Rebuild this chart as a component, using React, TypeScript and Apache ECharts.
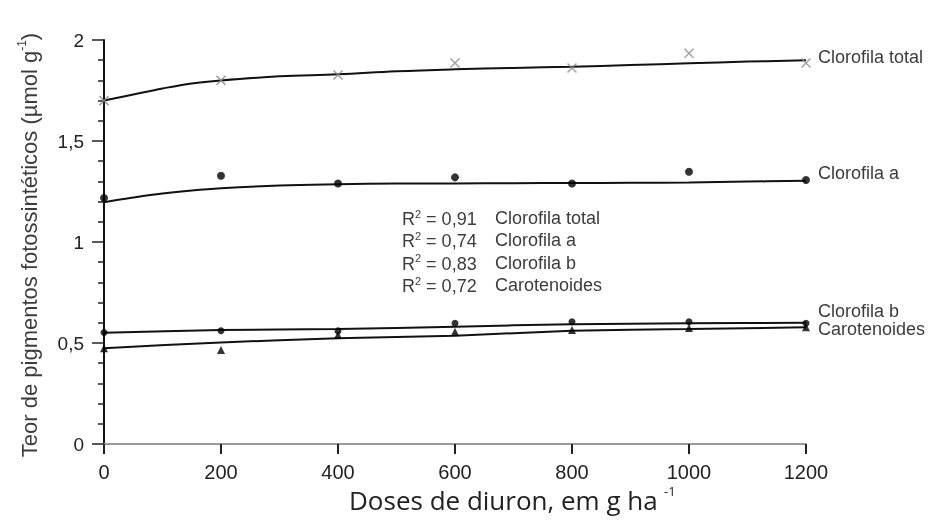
import React, { useEffect, useRef } from "react";
import * as echarts from "echarts";

const doses = [0, 200, 400, 600, 800, 1000, 1200];
const fitDoses = [0, 50, 100, 150, 200, 300, 400, 500, 600, 700, 800, 900, 1000, 1100, 1200];

const totalObs = [1.7, 1.8, 1.827, 1.886, 1.861, 1.934, 1.886];
const aObs = [1.218, 1.328, 1.29, 1.32, 1.29, 1.348, 1.307];
const bObs = [0.552, 0.561, 0.56, 0.598, 0.605, 0.605, 0.598];
const carObs = [0.474, 0.465, 0.54, 0.556, 0.564, 0.574, 0.578];

const totalFit = [1.7, 1.73, 1.76, 1.785, 1.8, 1.82, 1.83, 1.845, 1.855, 1.862, 1.868, 1.876, 1.885, 1.893, 1.9];
const aFit = [1.197, 1.22, 1.24, 1.255, 1.266, 1.28, 1.286, 1.289, 1.29, 1.291, 1.292, 1.293, 1.295, 1.299, 1.303];
const bFit = [0.551, 0.564, 0.569, 0.581, 0.593, 0.598, 0.6];
const carFit = [0.474, 0.503, 0.523, 0.536, 0.561, 0.569, 0.578];

const seriesNames = ["Clorofila total", "Clorofila a", "Clorofila b", "Carotenoides"];
const r2Values = ["0,91", "0,74", "0,83", "0,72"];

const yTicks = [0, 0.5, 1, 1.5, 2];
const xTicks = [0, 200, 400, 600, 800, 1000, 1200];

const FONT = "'Liberation Sans', Arial, sans-serif";
const TXT = "#3c3c3c";

const pair = (xs: number[], ys: number[]) => xs.map((x, i) => [x, ys[i]]);

export default function App() {
  const ref = useRef<HTMLDivElement>(null);
  useEffect(() => {
    if (!ref.current) return;
    const chart = echarts.init(ref.current, null, { renderer: "svg" });
    const labelShift = [-3, -8, -12, 2];
    const fits = [pair(fitDoses, totalFit), pair(fitDoses, aFit), pair(doses, bFit), pair(doses, carFit)];
    const lineSeries = fits.map((d, i) => ({
      type: "line",
      name: seriesNames[i],
      data: d,
      smooth: i < 2 ? 0.4 : 0.2,
      showSymbol: false,
      symbol: "none",
      clip: false,
      lineStyle: { color: "#111", width: 2 },
      z: 2,
      endLabel: {
        show: true,
        formatter: () => seriesNames[i],
        color: TXT,
        fontSize: 18,
        fontFamily: FONT,
        distance: 12,
        offset: [0, labelShift[i]],
      },
    }));
    const obsSeries = [
      {
        type: "scatter",
        name: "obs total",
        data: pair(doses, totalObs),
        symbol: "path://M0 0L10 10M10 0L0 10",
        symbolSize: 9,
        itemStyle: { color: "none", borderColor: "#8a8a8a", borderWidth: 1.5 },
        clip: false,
        z: 3,
      },
      {
        type: "scatter",
        name: "obs a",
        data: pair(doses, aObs),
        symbol: "circle",
        symbolSize: 8,
        itemStyle: { color: "#000" },
        clip: false,
        z: 3,
      },
      {
        type: "scatter",
        name: "obs b",
        data: pair(doses, bObs),
        symbol: "circle",
        symbolSize: 7,
        itemStyle: { color: "#000" },
        clip: false,
        z: 3,
      },
      {
        type: "scatter",
        name: "obs car",
        data: pair(doses, carObs),
        symbol: "triangle",
        symbolSize: 8,
        itemStyle: { color: "#000" },
        clip: false,
        z: 3,
      },
    ];

    const r2Graphics: any[] = [];
    r2Values.forEach((v, i) => {
      const y = 218 + i * 22.4;
      r2Graphics.push({
        type: "text",
        left: 402,
        top: y - 10,
        style: {
          text: `{m|R}{s|2}{m| = ${v}}`,
          rich: {
            m: { fontSize: 18, fontFamily: FONT, fill: TXT, lineHeight: 20, verticalAlign: "bottom" },
            s: { fontSize: 11, fontFamily: FONT, fill: TXT, lineHeight: 11, verticalAlign: "top" },
          },
        },
      });
      r2Graphics.push({
        type: "text",
        left: 495,
        top: y - 10,
        style: { text: seriesNames[i], fontSize: 18, fontFamily: FONT, fill: TXT, lineHeight: 20 },
      });
    });

    chart.setOption({
      animation: false,
      grid: { left: 104, right: 123, top: 40, bottom: 76, containLabel: false },
      xAxis: {
        type: "value",
        min: xTicks[0],
        max: xTicks[xTicks.length - 1],
        interval: 200,
        axisLine: { show: true, lineStyle: { color: "#9a9a9a", width: 2 } },
        axisTick: { show: true, length: 10, lineStyle: { color: "#222", width: 2 } },
        splitLine: { show: false },
        axisLabel: { fontSize: 20, color: "#222", fontFamily: FONT, margin: 18, formatter: (v: number) => String(v) },
      },
      yAxis: {
        type: "value",
        min: yTicks[0],
        max: yTicks[yTicks.length - 1],
        interval: 0.5,
        axisLine: { show: true, lineStyle: { color: "#111", width: 2 } },
        axisTick: { show: true, length: 12, lineStyle: { color: "#222", width: 1.5 } },
        minorTick: { show: true, splitNumber: 5, length: 6, lineStyle: { color: "#222", width: 1.5 } },
        splitLine: { show: false },
        minorSplitLine: { show: false },
        axisLabel: {
          fontSize: 19,
          color: "#222",
          fontFamily: FONT,
          margin: 20,
          formatter: (v: number) => String(v).replace(".", ","),
        },
      },
      graphic: [
        {
          type: "text",
          x: 28,
          y: 245,
          rotation: Math.PI / 2,
          style: {
            text: "{m|Teor de pigmentos fotossintéticos (µmol g}{s|-1}{m|)}",
            align: "center",
            verticalAlign: "middle",
            rich: {
              m: { fontSize: 22, fontFamily: FONT, fill: TXT, lineHeight: 24, verticalAlign: "bottom" },
              s: { fontSize: 12, fontFamily: FONT, fill: TXT, lineHeight: 12, verticalAlign: "top" },
            },
          },
        },
        {
          type: "text",
          left: 349,
          top: 486,
          style: {
            text: "Doses de diuron, em g ha",
            fontSize: 26,
            fontFamily: "'Open Sans', sans-serif",
            fill: "#222",
            lineHeight: 28,
          },
        },
        {
          type: "text",
          left: 664,
          top: 484,
          style: {
            text: "-1",
            fontSize: 13,
            fontFamily: "'Open Sans', sans-serif",
            fill: "#222",
            lineHeight: 13,
          },
        },
        ...r2Graphics,
      ],
      series: [...lineSeries, ...obsSeries],
    });
    return () => chart.dispose();
  }, []);
  return <div ref={ref} style={{ position: "fixed", left: 0, top: 0, width: 929, height: 520 }} />;
}
